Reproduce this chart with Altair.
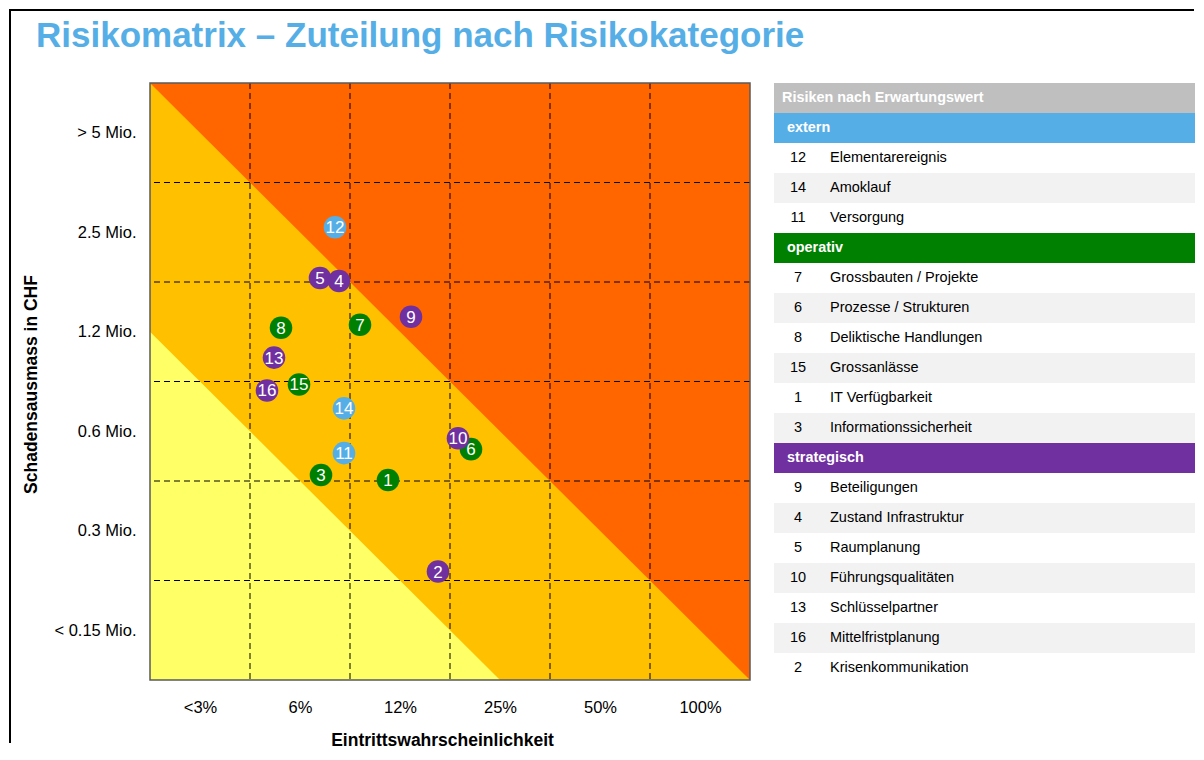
import altair as alt
import pandas as pd

FONT = "Liberation Sans"

# ---------------- data ----------------
TITLE = "Risikomatrix – Zuteilung nach Risikokategorie"
X_TITLE = "Eintrittswahrscheinlichkeit"
Y_TITLE = "Schadensausmass in CHF"
x_labels = ["<3%", "6%", "12%", "25%", "50%", "100%"]
y_labels = ["< 0.15 Mio.", "0.3 Mio.", "0.6 Mio.", "1.2 Mio.", "2.5 Mio.", "> 5 Mio."]

risk_ids = [12, 5, 4, 9, 8, 7, 13, 16, 15, 14, 11, 3, 1, 6, 10, 2]
risk_x = [1.85, 1.70, 1.89, 2.61, 1.31, 2.10, 1.24, 1.17, 1.49, 1.94, 1.94, 1.71, 2.38, 3.21, 3.08, 2.88]
risk_y = [4.55, 4.04, 4.01, 3.65, 3.54, 3.57, 3.24, 2.91, 2.97, 2.73, 2.28, 2.06, 2.01, 2.32, 2.43, 1.09]
risk_cat = ["extern", "strategisch", "strategisch", "strategisch", "operativ", "operativ",
            "strategisch", "strategisch", "operativ", "extern", "extern", "operativ",
            "operativ", "operativ", "strategisch", "strategisch"]

categories = ["extern", "operativ", "strategisch"]
cat_colors = ["#56aee6", "#008000", "#7030a0"]

table_header = "Risiken nach Erwartungswert"
extern_ids = [12, 14, 11]
extern_names = ["Elementarereignis", "Amoklauf", "Versorgung"]
operativ_ids = [7, 6, 8, 15, 1, 3]
operativ_names = ["Grossbauten / Projekte", "Prozesse / Strukturen", "Deliktische Handlungen",
                  "Grossanlässe", "IT Verfügbarkeit", "Informationssicherheit"]
strategisch_ids = [9, 4, 5, 10, 13, 16, 2]
strategisch_names = ["Beteiligungen", "Zustand Infrastruktur", "Raumplanung", "Führungsqualitäten",
                     "Schlüsselpartner", "Mittelfristplanung", "Krisenkommunikation"]

# risk zones (x + y thresholds in matrix units)
orange_x = [0, 6]
orange_y = [6, 0]
yellow_x = [0, 3.5]
yellow_y = [3.5, 0]
grid_lines = [1, 2, 3, 4, 5]
frame_x = [0, 6]
frame_y = [0, 6]

# ---------------- matrix ----------------
xs = alt.Scale(domain=[0, 6], nice=False, zero=False)
ys = alt.Scale(domain=[0, 6], nice=False, zero=False)
centers = [0.5, 1.5, 2.5, 3.5, 4.5, 5.5]


def label_expr(labels):
    return "[" + ",".join("'" + l + "'" for l in labels) + "][floor(datum.value)]"


x_axis = alt.Axis(values=centers, labelExpr=label_expr(x_labels), ticks=False,
                  domain=False, grid=False, labelFontSize=16.5, labelPadding=19,
                  labelColor="black", labelFont=FONT, title=X_TITLE, titleFont=FONT,
                  titleFontSize=17.5, titleFontWeight="bold", titleColor="black",
                  titleX=292, titleY=60, titleBaseline="middle", titleAlign="center")
y_axis = alt.Axis(values=centers, labelExpr=label_expr(y_labels), ticks=False,
                  domain=False, grid=False, labelFontSize=16.5, labelPadding=14,
                  labelColor="black", labelFont=FONT, labelLimit=300, title=Y_TITLE,
                  titleFont=FONT, titleFontSize=17.5, titleFontWeight="bold",
                  titleColor="black", titleX=-119, titleY=301, titleAngle=270,
                  titleBaseline="middle", titleAlign="center")


def X(field):
    return alt.X(field, scale=xs, axis=x_axis)


def Y(field):
    return alt.Y(field, scale=ys, axis=y_axis)


orange = alt.Chart(pd.DataFrame({"x": orange_x, "y": orange_y})).mark_area(
    color="#ffc000", opacity=1).encode(x=X("x:Q"), y=Y("y:Q"), y2=alt.datum(0))

yellow = alt.Chart(pd.DataFrame({"x": yellow_x, "y": yellow_y})).mark_area(
    color="#ffff66", opacity=1).encode(x=X("x:Q"), y=Y("y:Q"), y2=alt.datum(0))

gdf = pd.DataFrame({"g": grid_lines})
vgrid = alt.Chart(gdf).mark_rule(color="black", strokeDash=[6, 4], strokeWidth=1).encode(
    x=X("g:Q"))
hgrid = alt.Chart(gdf).mark_rule(color="black", strokeDash=[6, 4], strokeWidth=1).encode(
    y=Y("g:Q"))

frame = alt.Chart(pd.DataFrame({"x1": [frame_x[0]], "x2": [frame_x[1]],
                                "y1": [frame_y[0]], "y2": [frame_y[1]]})).mark_rect(
    fillOpacity=0, stroke="#595959", strokeWidth=1.5).encode(
    x=X("x1:Q"), x2="x2:Q", y=Y("y1:Q"), y2="y2:Q")

pdf = pd.DataFrame({"id": [str(i) for i in risk_ids], "x": risk_x, "y": risk_y, "cat": risk_cat})
points = alt.Chart(pdf).mark_circle(size=510, opacity=1).encode(
    x=X("x:Q"), y=Y("y:Q"),
    color=alt.Color("cat:N", scale=alt.Scale(domain=categories, range=cat_colors), legend=None))
labels = alt.Chart(pdf).mark_text(color="white", fontSize=17, font=FONT, baseline="middle",
                                  dy=1).encode(x=X("x:Q"), y=Y("y:Q"), text="id:N")

one = pd.DataFrame({"t": [TITLE]})
title = alt.Chart(one).mark_text(align="left", baseline="top", fontSize=35,
                                 fontWeight="bold", color="#56aee6", font=FONT).encode(
    x=alt.value(-114), y=alt.value(-64), text="t:N")
border_left = alt.Chart(one).mark_rule(color="black", strokeWidth=2).encode(
    x=alt.value(-140), y=alt.value(-74), y2=alt.value(660))
border_top = alt.Chart(one).mark_rule(color="black", strokeWidth=2).encode(
    x=alt.value(-141), x2=alt.value(1044), y=alt.value(-73))

matrix = alt.layer(orange, yellow, vgrid, hgrid, frame, points, labels, title,
                   border_left, border_top).properties(
    width=600, height=597,
    view=alt.ViewBackground(fill="#ff6600", strokeWidth=0))

# ---------------- table ----------------
rows = [{"kind": "header", "num": "", "name": table_header, "fill": "#bfbfbf"}]
for cat, col, ids, names in zip(categories, cat_colors,
                                [extern_ids, operativ_ids, strategisch_ids],
                                [extern_names, operativ_names, strategisch_names]):
    rows.append({"kind": "group", "num": "", "name": cat, "fill": col})
    for i, (n, nm) in enumerate(zip(ids, names)):
        rows.append({"kind": "item", "num": str(n), "name": nm,
                     "fill": "#ffffff" if i % 2 == 0 else "#f2f2f2"})
tdf = pd.DataFrame(rows)
tdf["idx"] = range(len(tdf))

TW = 421
ty = alt.Y("idx:O", scale=alt.Scale(domain=list(range(len(tdf))), paddingInner=0,
                                    paddingOuter=0), axis=None)
tbase = alt.Chart(tdf)
trect = tbase.mark_rect().encode(y=ty, x=alt.value(0), x2=alt.value(TW),
                                  fill=alt.Fill("fill:N", scale=None))
theader = tbase.transform_filter("datum.kind == 'header'").mark_text(
    align="left", baseline="middle", color="white", fontWeight="bold", fontSize=14.4,
    font=FONT).encode(y=ty, x=alt.value(8), text="name:N")
tgroup = tbase.transform_filter("datum.kind == 'group'").mark_text(
    align="left", baseline="middle", color="white", fontWeight="bold", fontSize=14.4,
    font=FONT).encode(y=ty, x=alt.value(13), text="name:N")
tnum = tbase.transform_filter("datum.kind == 'item'").mark_text(
    align="center", baseline="middle", color="black", fontSize=14.5,
    font=FONT).encode(y=ty, x=alt.value(24), text="num:N")
tname = tbase.transform_filter("datum.kind == 'item'").mark_text(
    align="left", baseline="middle", color="black", fontSize=14.5,
    font=FONT).encode(y=ty, x=alt.value(56), text="name:N")

table = alt.layer(trect, theader, tgroup, tnum, tname).properties(
    width=TW, height=600, view=alt.ViewBackground(strokeWidth=0))

chart = alt.hconcat(matrix, table, spacing=24, bounds="flush").properties(
    padding=0, background="white").configure(font=FONT)

chart.save("out.html", embed_options={"renderer": "svg", "actions": False})
